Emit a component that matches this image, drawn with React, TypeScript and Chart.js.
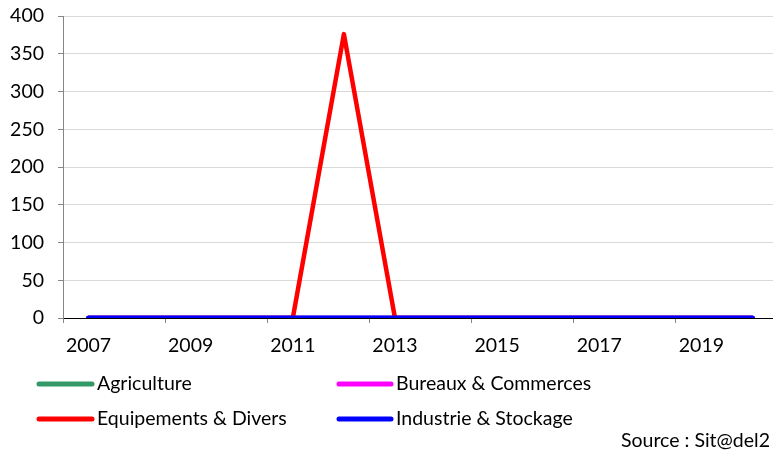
import React, { useEffect, useRef } from "react";
import { Chart, registerables } from "chart.js";

Chart.register(...registerables);

const years = ["2007","2008","2009","2010","2011","2012","2013","2014","2015","2016","2017","2018","2019","2020"];
const agriculture = [0,0,0,0,0,0,0,0,0,0,0,0,0,0];
const bureaux = [0,0,0,0,0,0,0,0,0,0,0,0,0,0];
const equipements = [0,0,0,0,0,376,0,0,0,0,0,0,0,0];
const industrie = [0,0,0,0,0,0,0,0,0,0,0,0,0,0];
const seriesNames = ["Agriculture","Bureaux & Commerces","Equipements & Divers","Industrie & Stockage"];
const seriesColors = ["#339966","#FF00FF","#FF0000","#0000FF"];
const sourceText = "Source : Sit@del2";

const FONT = "Lato, 'Open Sans', sans-serif";
const FS = 19.5;

const legendPlugin = {
  id: "customLegend",
  afterDraw(chart: any) {
    const ctx = chart.ctx;
    ctx.save();
    const cols = [{ x1: 39, x2: 92, tx: 97 }, { x1: 339, x2: 391, tx: 396 }];
    const rows = [384, 419];
    chart.data.datasets.forEach((ds: any, i: number) => {
      const c = cols[i % 2];
      const y = rows[Math.floor(i / 2)];
      ctx.strokeStyle = ds.borderColor;
      ctx.lineWidth = 5;
      ctx.lineCap = "round";
      ctx.beginPath();
      ctx.moveTo(c.x1, y);
      ctx.lineTo(c.x2, y);
      ctx.stroke();
      ctx.fillStyle = "#000";
      ctx.font = `${FS}px ${FONT}`;
      ctx.textAlign = "left";
      ctx.textBaseline = "middle";
      ctx.fillText(ds.label, c.tx, y);
    });
    ctx.textAlign = "right";
    ctx.fillText(sourceText, 770, 441);
    ctx.restore();
  },
};

export default function App() {
  const ref = useRef<HTMLCanvasElement | null>(null);
  useEffect(() => {
    document.body.style.margin = "0";
    const seriesData = [agriculture, bureaux, equipements, industrie];
    const chart = new Chart(ref.current as HTMLCanvasElement, {
      type: "line",
      data: {
        labels: years,
        datasets: seriesData.map((d, i) => ({
          label: seriesNames[i],
          data: d,
          order: 3 - i,
          borderColor: seriesColors[i],
          backgroundColor: seriesColors[i],
          borderWidth: i === 3 ? 5 : 4.5,
          pointRadius: 0,
          borderCapStyle: "round",
          borderJoinStyle: "round",
          tension: 0,
        })),
      },
      options: {
        animation: false,
        responsive: false,
        maintainAspectRatio: false,
        layout: { padding: { top: 16, bottom: 90, left: 0, right: 0 } },
        plugins: { legend: { display: false }, tooltip: { enabled: false } },
        scales: {
          x: {
            type: "category",
            offset: true,
            afterFit: (s: any) => { s.height = 44; },
            border: { color: "#000", width: 1 },
            grid: {
              offset: true,
              drawOnChartArea: false,
              drawTicks: true,
              tickLength: 5,
              tickColor: (ctx: any) => (ctx.index % 2 === 0 ? "#868686" : "rgba(0,0,0,0)"),
            },
            ticks: {
              autoSkip: false,
              maxRotation: 0,
              padding: 11,
              color: "#000",
              font: { family: FONT, size: FS },
              callback: (_v: any, i: number) => (i % 2 === 0 ? years[i] : ""),
            },
          },
          y: {
            min: 0,
            max: 400,
            afterFit: (s: any) => { s.width = 63; s.paddingTop = 0; s.paddingBottom = 0; },
            border: { color: "#868686", width: 1 },
            grid: { color: "#d9d9d9", tickColor: "#868686", tickLength: 5 },
            ticks: {
              stepSize: 50,
              padding: 14,
              color: "#000",
              font: { family: FONT, size: FS },
            },
          },
        },
      },
      plugins: [legendPlugin],
    } as any);
    return () => chart.destroy();
  }, []);
  return (
    <div style={{ position: "fixed", left: 0, top: 0, width: 773, height: 452, overflow: "hidden", background: "#fff" }}>
      <canvas ref={ref} width={778} height={452} style={{ display: "block" }} />
    </div>
  );
}
